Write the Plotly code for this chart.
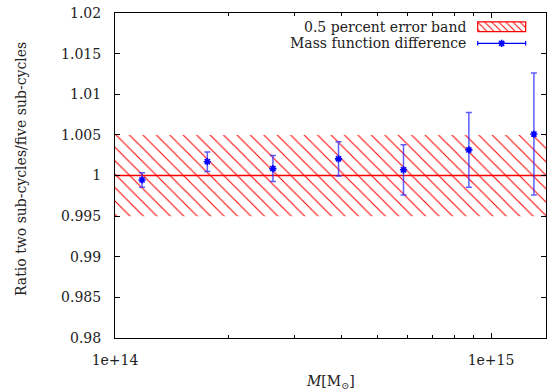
import plotly.graph_objects as go

# ---- data ----
mass = [1.18e14, 1.76e14, 2.63e14, 3.93e14, 5.85e14, 8.73e14, 1.30e15]
ratio = [0.99945, 1.0017, 1.00085, 1.00205, 1.0007, 1.00315, 1.0051]
ratio_err = [0.0009, 0.0012, 0.0016, 0.0021, 0.0031, 0.0046, 0.0075]
band_lo = 0.995
band_hi = 1.005
ref_level = 1.0
x_range = [1e14, 1.4e15]
y_range = [0.98, 1.02]
y_ticks = [0.98, 0.985, 0.99, 0.995, 1.0, 1.005, 1.01, 1.015, 1.02]
y_ticktext = ["0.98", "0.985", "0.99", "0.995", "1", "1.005", "1.01", "1.015", "1.02"]
x_ticks = [1e14, 1e15]
x_ticktext = ["1e+14", "1e+15"]
x_minor = [2e14, 3e14, 4e14, 5e14, 6e14, 7e14, 8e14, 9e14]
band_label = "0.5 percent error band"
diff_label = "Mass function difference"

FONT = "DejaVu Serif"
FS = 14
RED = "#ff0000"
BLUE = "#0000ff"
TXT = "#222222"

fig = go.Figure()

# hatched error band
fig.add_trace(go.Scatter(
    x=[x_range[0], x_range[1], x_range[1], x_range[0], x_range[0]],
    y=[band_lo, band_lo, band_hi, band_hi, band_lo],
    mode="none", fill="toself", fillcolor="rgba(0,0,0,0)",
    fillpattern=dict(shape="\\", fgcolor=RED, bgcolor="rgba(0,0,0,0)",
                     fgopacity=1, size=9.5, solidity=0.11),
    showlegend=False, hoverinfo="skip"))

# reference line
fig.add_trace(go.Scatter(
    x=[x_range[0], x_range[1]], y=[ref_level, ref_level],
    mode="lines", line=dict(color=RED, width=1.3),
    showlegend=False, hoverinfo="skip"))

# data with error bars
fig.add_trace(go.Scatter(
    x=mass, y=ratio, mode="markers",
    marker=dict(symbol="asterisk-open", size=6, color=BLUE,
                line=dict(color=BLUE, width=1.6)),
    error_y=dict(type="data", array=ratio_err, color="rgba(40,40,255,0.75)",
                 thickness=1.5, width=3),
    showlegend=False))

# ---- manual gnuplot-style key (overlay axes 0..1) ----
sx0, sx1 = 0.8415, 0.9528
r1y0, r1y1 = 0.9428, 0.9726
r2y = 0.9068
fig.add_trace(go.Scatter(
    x=[sx0, sx1, sx1, sx0, sx0], y=[r1y0, r1y0, r1y1, r1y1, r1y0],
    xaxis="x2", yaxis="y2", mode="lines", fill="toself",
    line=dict(color=RED, width=1.2), fillcolor="rgba(0,0,0,0)",
    fillpattern=dict(shape="\\", fgcolor=RED, bgcolor="rgba(0,0,0,0)",
                     fgopacity=1, size=5, solidity=0.2),
    showlegend=False, hoverinfo="skip"))
fig.add_trace(go.Scatter(
    x=[sx0, sx1], y=[r2y, r2y], xaxis="x2", yaxis="y2", mode="lines",
    line=dict(color=BLUE, width=1.2), showlegend=False, hoverinfo="skip"))
for cx in (sx0, sx1):
    fig.add_trace(go.Scatter(
        x=[cx, cx], y=[r2y - 0.007, r2y + 0.007], xaxis="x2", yaxis="y2",
        mode="lines", line=dict(color=BLUE, width=1.2),
        showlegend=False, hoverinfo="skip"))
fig.add_trace(go.Scatter(
    x=[(sx0 + sx1) / 2], y=[r2y], xaxis="x2", yaxis="y2", mode="markers",
    marker=dict(symbol="asterisk-open", size=6, color=BLUE,
                line=dict(color=BLUE, width=1.6)),
    showlegend=False, hoverinfo="skip"))

annotations = [
    dict(text=band_label, xref="paper", yref="paper", x=0.819, y=(r1y0 + r1y1) / 2,
         xanchor="right", yanchor="middle", showarrow=False,
         font=dict(family=FONT, size=FS, color=TXT)),
    dict(text=diff_label, xref="paper", yref="paper", x=0.819, y=r2y,
         xanchor="right", yanchor="middle", showarrow=False,
         font=dict(family=FONT, size=FS, color=TXT)),
    dict(text="Ratio two sub-cycles/five sub-cycles", xref="paper", yref="paper",
         x=-0.218, y=0.52, xanchor="center", yanchor="middle", textangle=-90,
         showarrow=False, font=dict(family=FONT, size=FS, color=TXT)),
    dict(text="<i>M</i>[M<sub>⊙</sub>]", xref="paper", yref="paper",
         x=0.5, y=-0.135, xanchor="center", yanchor="middle",
         showarrow=False, font=dict(family=FONT, size=FS, color=TXT)),
]

axis_common = dict(showgrid=False, zeroline=False, showline=True, linecolor="black",
                   linewidth=1, mirror="ticks", ticks="inside", tickcolor="black",
                   ticklen=5, tickwidth=1,
                   tickfont=dict(family=FONT, size=FS, color=TXT))

fig.update_layout(
    width=549, height=392,
    margin=dict(l=115, r=3, t=13, b=54),
    paper_bgcolor="white", plot_bgcolor="white",
    showlegend=False,
    font=dict(family=FONT, size=FS, color=TXT),
    annotations=annotations,
    xaxis=dict(type="log", range=[14, 15.146128], tickvals=x_ticks,
               ticktext=x_ticktext, ticklabelstandoff=9,
               minor=dict(tickvals=x_minor, ticks="inside", ticklen=3,
                          tickcolor="black", tickwidth=1, showgrid=False),
               **axis_common),
    yaxis=dict(range=y_range, tickvals=y_ticks, ticktext=y_ticktext,
               ticklabelstandoff=10, **axis_common),
    xaxis2=dict(overlaying="x", range=[0, 1], visible=False, fixedrange=True),
    yaxis2=dict(overlaying="y", range=[0, 1], visible=False, fixedrange=True),
)

fig.write_html("out.html")
